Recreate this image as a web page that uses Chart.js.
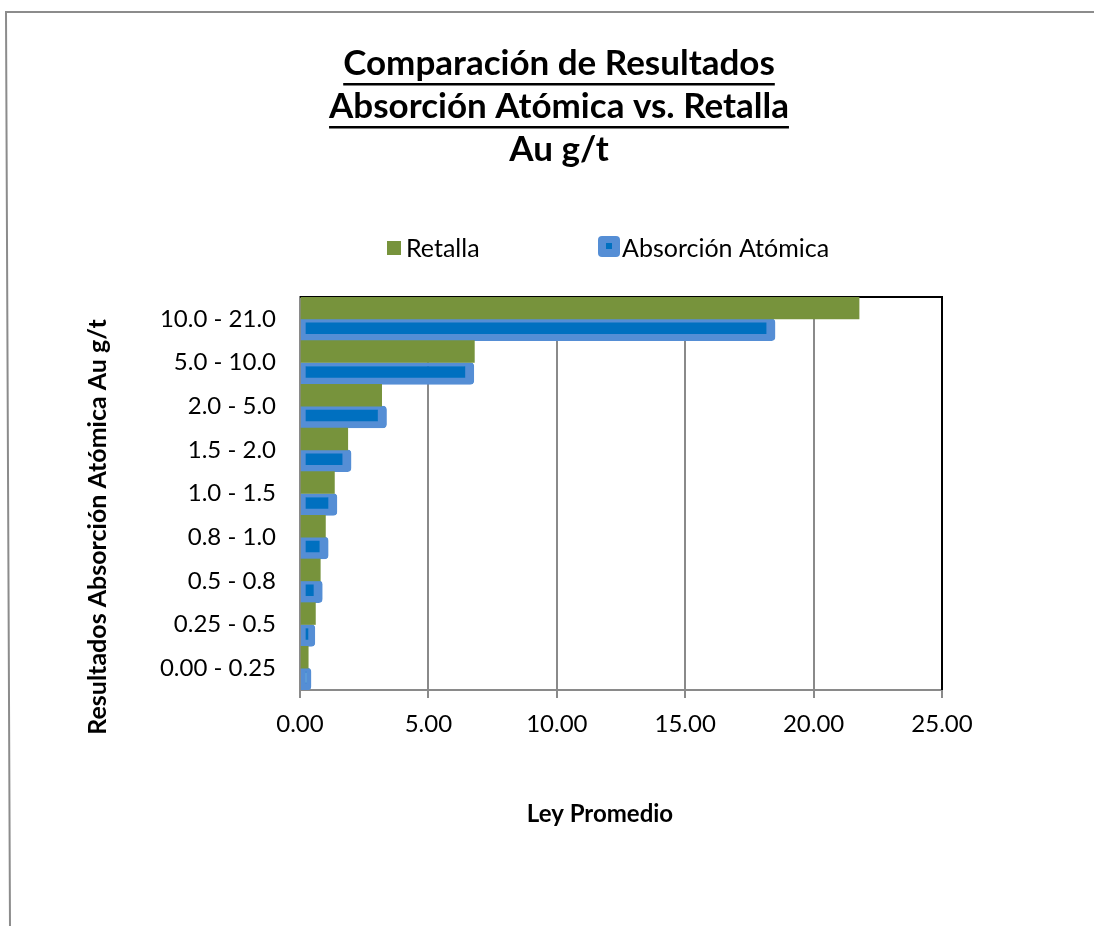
<!DOCTYPE html>
<html>
<head>
<meta charset="utf-8">
<script src="https://cdn.jsdelivr.net/npm/chart.js@4/dist/chart.umd.min.js"></script>
<style>
  body { margin: 0; background: #fff; }
  #chart { display: block; }
</style>
</head>
<body>
<canvas id="chart" width="1094" height="926"></canvas>
<script>
// rangos de ley (de arriba hacia abajo) y promedios por método
const categories = ["10.0 - 21.0", "5.0 - 10.0", "2.0 - 5.0", "1.5 - 2.0", "1.0 - 1.5",
                    "0.8 - 1.0", "0.5 - 0.8", "0.25 - 0.5", "0.00 - 0.25"];
const retalla = [21.77, 6.79, 3.18, 1.86, 1.34, 0.99, 0.79, 0.60, 0.32];
const absorcion = [18.50, 6.77, 3.37, 1.99, 1.44, 1.10, 0.87, 0.58, 0.43];
const xTicks = [0, 5, 10, 15, 20, 25];

const titleLines = ["Comparación de Resultados", "Absorción Atómica vs. Retalla", "Au g/t"];
const seriesNames = ["Retalla", "Absorción Atómica"];
const xTitle = "Ley Promedio";
const yTitle = "Resultados Absorción Atómica Au g/t";

const GREEN = "#77933C";
const BLUE_EDGE = "#558ED5";
const BLUE_FILL = "#0070C0";
const FONT = "Lato, 'Open Sans', sans-serif";

// texts, legend, frame drawn by hand to follow the Excel layout
const decorations = {
  id: "decorations",
  beforeDraw(chart) {
    const ctx = chart.ctx;
    ctx.save();
    ctx.strokeStyle = "#8c8c8c";
    ctx.lineWidth = 2;
    ctx.beginPath();
    ctx.moveTo(1094, 12);
    ctx.lineTo(6, 12);
    ctx.lineTo(10, 926);
    ctx.stroke();
    ctx.restore();
  },
  beforeDatasetsDraw(chart) {
    const { ctx, chartArea: a } = chart;
    ctx.save();
    ctx.strokeStyle = "#000";
    ctx.lineWidth = 2;
    ctx.beginPath();
    ctx.moveTo(a.left, a.top);
    ctx.lineTo(a.right, a.top);
    ctx.lineTo(a.right, a.bottom);
    ctx.stroke();
    ctx.restore();
  },
  afterDraw(chart) {
    const ctx = chart.ctx;
    ctx.save();
    ctx.fillStyle = "#000";
    ctx.textAlign = "center";
    ctx.textBaseline = "alphabetic";

    // title
    ctx.font = "bold 35px " + FONT;
    const cx = 559;
    const baselines = [75, 118, 161];
    titleLines.forEach((t, i) => {
      ctx.fillText(t, cx, baselines[i]);
      if (i < 2) {
        const w = ctx.measureText(t).width;
        ctx.fillRect(cx - w / 2, baselines[i] + 8, w, 2.5);
      }
    });

    // legend
    ctx.textAlign = "left";
    ctx.font = "25px " + FONT;
    ctx.fillStyle = GREEN;
    ctx.fillRect(387, 241, 14, 14);
    ctx.fillStyle = "#000";
    ctx.fillText(seriesNames[0], 406, 257);

    ctx.fillStyle = BLUE_EDGE;
    ctx.beginPath();
    ctx.roundRect(598, 236, 22, 21, 4);
    ctx.fill();
    ctx.fillStyle = BLUE_FILL;
    ctx.fillRect(606, 243, 6, 6);
    ctx.fillStyle = "#000";
    ctx.fillText(seriesNames[1], 622, 257);

    // axis titles
    ctx.textAlign = "center";
    ctx.font = "bold 24px " + FONT;
    ctx.fillText(xTitle, 600, 822);
    ctx.font = "bold 25px " + FONT;
    ctx.translate(106, 527);
    ctx.rotate(-Math.PI / 2);
    ctx.fillText(yTitle, 0, 0);
    ctx.restore();
  }
};

new Chart(document.getElementById("chart"), {
  type: "bar",
  data: {
    labels: categories,
    datasets: [
      {
        label: seriesNames[0],
        data: retalla,
        backgroundColor: GREEN,
        borderWidth: 0,
        categoryPercentage: 1,
        barPercentage: 1
      },
      {
        label: seriesNames[1],
        data: absorcion,
        backgroundColor: BLUE_FILL,
        borderColor: BLUE_EDGE,
        borderWidth: { top: 4, left: 5, right: 9, bottom: 7 },
        borderSkipped: false,
        borderRadius: { topLeft: 0, bottomLeft: 0, topRight: 4, bottomRight: 4 },
        categoryPercentage: 1,
        barPercentage: 1
      }
    ]
  },
  options: {
    indexAxis: "y",
    responsive: false,
    animation: false,
    devicePixelRatio: 1,
    layout: { padding: { top: 297, left: 150, right: 152, bottom: 186 } },
    plugins: {
      legend: { display: false },
      title: { display: false },
      tooltip: { enabled: false }
    },
    scales: {
      x: {
        min: 0,
        max: 25,
        afterBuildTicks: (s) => { s.ticks = xTicks.map(v => ({ value: v })); },
        afterFit: (s) => { s.height = 50; },
        ticks: {
          color: "#000",
          font: { family: FONT, size: 24 },
          padding: 12,
          callback: (v) => Number(v).toFixed(2)
        },
        grid: { color: "#8a8a8a", lineWidth: 2, tickLength: 8 },
        border: { color: "#8a8a8a", width: 2 }
      },
      y: {
        afterFit: (s) => { s.width = 150; },
        ticks: {
          color: "#000",
          font: { family: FONT, size: 24 },
          padding: 16
        },
        grid: { display: false },
        border: { color: "#8a8a8a", width: 2 }
      }
    }
  },
  plugins: [decorations]
});
</script>
</body>
</html>
